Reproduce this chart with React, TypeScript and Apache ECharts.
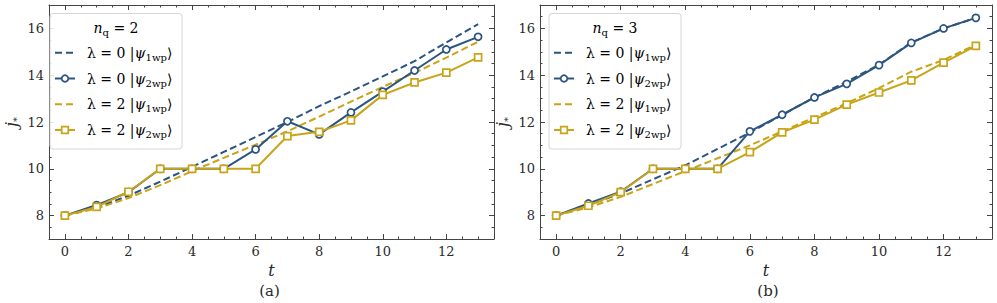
import React, { useEffect, useRef } from "react";
import * as echarts from "echarts";

const t = [0, 1, 2, 3, 4, 5, 6, 7, 8, 9, 10, 11, 12, 13];

// panel (a): n_q = 2
const aL0Wp1 = [8, 8.35, 8.85, 9.45, 10.08, 10.72, 11.36, 12.0, 12.68, 13.3, 13.95, 14.6, 15.4, 16.18];
const aL0Wp2 = [8, 8.45, 9.0, 10.0, 10.0, 10.0, 10.83, 12.03, 11.47, 12.41, 13.3, 14.2, 15.1, 15.64];
const aL2Wp1 = [8, 8.3, 8.75, 9.3, 9.9, 10.47, 11.03, 11.6, 12.23, 12.87, 13.5, 14.1, 14.75, 15.43];
const aL2Wp2 = [8, 8.37, 9.02, 10.0, 10.0, 10.0, 10.0, 11.4, 11.58, 12.07, 13.16, 13.69, 14.11, 14.76];

// panel (b): n_q = 3
const bL0Wp1 = [8, 8.45, 8.95, 9.55, 10.15, 10.85, 11.55, 12.3, 13.05, 13.72, 14.45, 15.4, 16.0, 16.45];
const bL0Wp2 = [8, 8.52, 9.02, 10.0, 10.0, 10.0, 11.6, 12.31, 13.05, 13.63, 14.43, 15.38, 16.0, 16.45];
const bL2Wp1 = [8, 8.35, 8.8, 9.35, 9.9, 10.45, 11.0, 11.6, 12.2, 12.8, 13.45, 14.15, 14.65, 15.3];
const bL2Wp2 = [8, 8.42, 9.0, 10.0, 10.0, 10.0, 10.71, 11.56, 12.1, 12.74, 13.26, 13.78, 14.54, 15.25];

const xTicks = [0, 2, 4, 6, 8, 10, 12];
const yTicks = [8, 10, 12, 14, 16];
const xRange = [-0.5, 13.5];
const yRange = [7, 17];
const panelLabels = ["(a)", "(b)"];
const legendTitles = ["2", "3"];
const legendLambdas = ["0", "0", "2", "2"];
const legendKets = ["1wp", "2wp", "1wp", "2wp"];

const BLUE = "#2c5480";
const GOLD = "#c8a418";
const FONT = "DejaVu Serif";
const TEXT = "#2a2a2a";

function minors(range: number[], majors: number[]) {
  const out: number[] = [];
  for (let v = Math.ceil(range[0] * 2) / 2; v <= range[1] + 1e-9; v += 0.5) {
    if (v > range[0] + 1e-9 && v < range[1] - 1e-9 && !majors.some((m) => Math.abs(m - v) < 1e-9)) out.push(v);
  }
  return out;
}

const xMinor = minors(xRange, xTicks);
const yMinor = minors(yRange, yTicks);

const grids = [
  { left: 41, top: 5, width: 453, height: 234 },
  { left: 540, top: 5, width: 452, height: 234 },
];

const pair = (ys: number[]) => t.map((x, i) => [x, ys[i]]);

export default function App() {
  const ref = useRef<HTMLDivElement>(null);
  useEffect(() => {
    if (!ref.current) return;
    const chart = echarts.init(ref.current, undefined, { renderer: "svg" });

    const xAxes: any[] = [];
    const yAxes: any[] = [];
    grids.forEach((_, g) => {
      const xBase = {
        type: "value",
        gridIndex: g,
        min: xRange[0],
        max: xRange[1],
        splitLine: { show: false },
      };
      const yBase = {
        type: "value",
        gridIndex: g,
        min: yRange[0],
        max: yRange[1],
        splitLine: { show: false },
      };
      xAxes.push({
        ...xBase,
        position: "bottom",
        axisLine: { show: true, onZero: false, lineStyle: { color: "#444", width: 1 } },
        axisTick: { show: true, inside: true, length: 5, customValues: xTicks, lineStyle: { color: "#444" } },
        axisLabel: { show: true, customValues: xTicks, margin: 6, fontFamily: FONT, fontSize: 13, color: TEXT },
        name: "t",
        nameLocation: "middle",
        nameGap: 17,
        nameTextStyle: { fontFamily: FONT, fontSize: 16, fontStyle: "italic", color: TEXT },
      });
      xAxes.push({
        ...xBase,
        position: "bottom",
        axisLine: { show: false, onZero: false },
        axisTick: { show: true, inside: true, length: 2.5, customValues: xMinor, lineStyle: { color: "#444" } },
        axisLabel: { show: false },
      });
      xAxes.push({
        ...xBase,
        position: "top",
        axisLine: { show: true, onZero: false, lineStyle: { color: "#444", width: 1 } },
        axisTick: { show: true, inside: true, length: 5, customValues: xTicks, lineStyle: { color: "#444" } },
        axisLabel: { show: false },
      });
      xAxes.push({
        ...xBase,
        position: "top",
        axisLine: { show: false, onZero: false },
        axisTick: { show: true, inside: true, length: 2.5, customValues: xMinor, lineStyle: { color: "#444" } },
        axisLabel: { show: false },
      });

      yAxes.push({
        ...yBase,
        position: "left",
        axisLine: { show: true, onZero: false, lineStyle: { color: "#444", width: 1 } },
        axisTick: { show: true, inside: true, length: 5, customValues: yTicks, lineStyle: { color: "#444" } },
        axisLabel: { show: true, customValues: yTicks, margin: 5, fontFamily: FONT, fontSize: 13, color: TEXT },
        name: "{i|j}{s|*}",
        nameLocation: "middle",
        nameGap: 28,
        nameRotate: 90,
        nameTextStyle: {
          fontFamily: FONT,
          color: TEXT,
          rich: {
            i: { fontFamily: FONT, fontSize: 16, fontStyle: "italic", color: TEXT, lineHeight: 20 },
            s: { fontFamily: FONT, fontSize: 10, color: TEXT, lineHeight: 10, padding: [10, 0, 0, 0] },
          },
        },
      });
      yAxes.push({
        ...yBase,
        position: "left",
        axisLine: { show: false, onZero: false },
        axisTick: { show: true, inside: true, length: 2.5, customValues: yMinor, lineStyle: { color: "#444" } },
        axisLabel: { show: false },
      });
      yAxes.push({
        ...yBase,
        position: "right",
        axisLine: { show: true, onZero: false, lineStyle: { color: "#444", width: 1 } },
        axisTick: { show: true, inside: true, length: 5, customValues: yTicks, lineStyle: { color: "#444" } },
        axisLabel: { show: false },
      });
      yAxes.push({
        ...yBase,
        position: "right",
        axisLine: { show: false, onZero: false },
        axisTick: { show: true, inside: true, length: 2.5, customValues: yMinor, lineStyle: { color: "#444" } },
        axisLabel: { show: false },
      });
    });

    const panels = [
      [aL0Wp1, aL0Wp2, aL2Wp1, aL2Wp2],
      [bL0Wp1, bL0Wp2, bL2Wp1, bL2Wp2],
    ];
    const series: any[] = [];
    panels.forEach((sets, g) => {
      const xi = g * 4;
      const yi = g * 4;
      const styles = [
        { color: BLUE, dashed: true, symbol: "none" },
        { color: BLUE, dashed: false, symbol: "circle" },
        { color: GOLD, dashed: true, symbol: "none" },
        { color: GOLD, dashed: false, symbol: "rect" },
      ];
      const order = [0, 2, 1, 3];
      order.forEach((k) => {
        const s = styles[k];
        series.push({
          type: "line",
          xAxisIndex: xi,
          yAxisIndex: yi,
          data: pair(sets[k]),
          symbol: s.symbol,
          symbolSize: 7,
          showSymbol: s.symbol !== "none",
          lineStyle: { color: s.color, width: 2, type: s.dashed ? [7, 3.5] : "solid" },
          itemStyle: { color: "#fff", borderColor: s.color, borderWidth: 1.7 },
          z: s.dashed ? 2 : 3,
          silent: true,
        });
      });
    });

    const graphic: any[] = [];
    const legendLefts = [50, 549];
    const rich = {
      m: { fontFamily: FONT, fontSize: 14, color: TEXT, lineHeight: 18 },
      i: { fontFamily: FONT, fontSize: 14, fontStyle: "italic", color: TEXT, lineHeight: 18 },
      s: { fontFamily: FONT, fontSize: 10, color: TEXT, lineHeight: 10, padding: [9, 0, 0, 0] },
    };
    grids.forEach((gr, g) => {
      const lx = legendLefts[g];
      graphic.push({
        type: "rect",
        shape: { x: lx, y: 13.5, width: 132, height: 135.5, r: 3 },
        style: { fill: "rgba(255,255,255,0.85)", stroke: "#d6d6d6", lineWidth: 1 },
        z: 10,
      });
      graphic.push({
        type: "text",
        x: lx + 66,
        y: 28,
        style: {
          text: `{i|n}{s|q}{m| = ${legendTitles[g]}}`,
          rich,
          align: "center",
          verticalAlign: "middle",
        },
        z: 11,
      });
      const rows = [52.7, 78.5, 104.3, 130];
      const cols = [BLUE, BLUE, GOLD, GOLD];
      rows.forEach((ry, k) => {
        const dashed = k === 0 || k === 2;
        graphic.push({
          type: "line",
          shape: { x1: lx + 5, y1: ry, x2: lx + 25, y2: ry },
          style: { stroke: cols[k], lineWidth: 2, lineDash: dashed ? [7, 4] : null },
          z: 11,
        });
        if (!dashed) {
          if (k === 1) {
            graphic.push({
              type: "circle",
              shape: { cx: lx + 15, cy: ry, r: 3.3 },
              style: { fill: "#fff", stroke: cols[k], lineWidth: 1.7 },
              z: 12,
            });
          } else {
            graphic.push({
              type: "rect",
              shape: { x: lx + 11.7, y: ry - 3.3, width: 6.6, height: 6.6 },
              style: { fill: "#fff", stroke: cols[k], lineWidth: 1.7 },
              z: 12,
            });
          }
        }
        graphic.push({
          type: "text",
          x: lx + 37,
          y: ry,
          style: {
            text: `{m|λ = ${legendLambdas[k]} |}{i|ψ}{s|${legendKets[k]}}{m|⟩}`,
            rich,
            align: "left",
            verticalAlign: "middle",
          },
          z: 11,
        });
      });
      graphic.push({
        type: "text",
        x: gr.left + gr.width / 2 + 2,
        y: 291,
        style: {
          text: panelLabels[g],
          fontFamily: FONT,
          fontSize: 15,
          fill: TEXT,
          align: "center",
          verticalAlign: "middle",
        },
        z: 11,
      });
    });

    chart.setOption({
      animation: false,
      backgroundColor: "#fff",
      grid: grids.map((g) => ({ ...g, containLabel: false })),
      xAxis: xAxes,
      yAxis: yAxes,
      series,
      graphic,
    });
    return () => chart.dispose();
  }, []);
  return <div ref={ref} style={{ position: "fixed", left: 0, top: 0, width: 997, height: 303 }} />;
}
